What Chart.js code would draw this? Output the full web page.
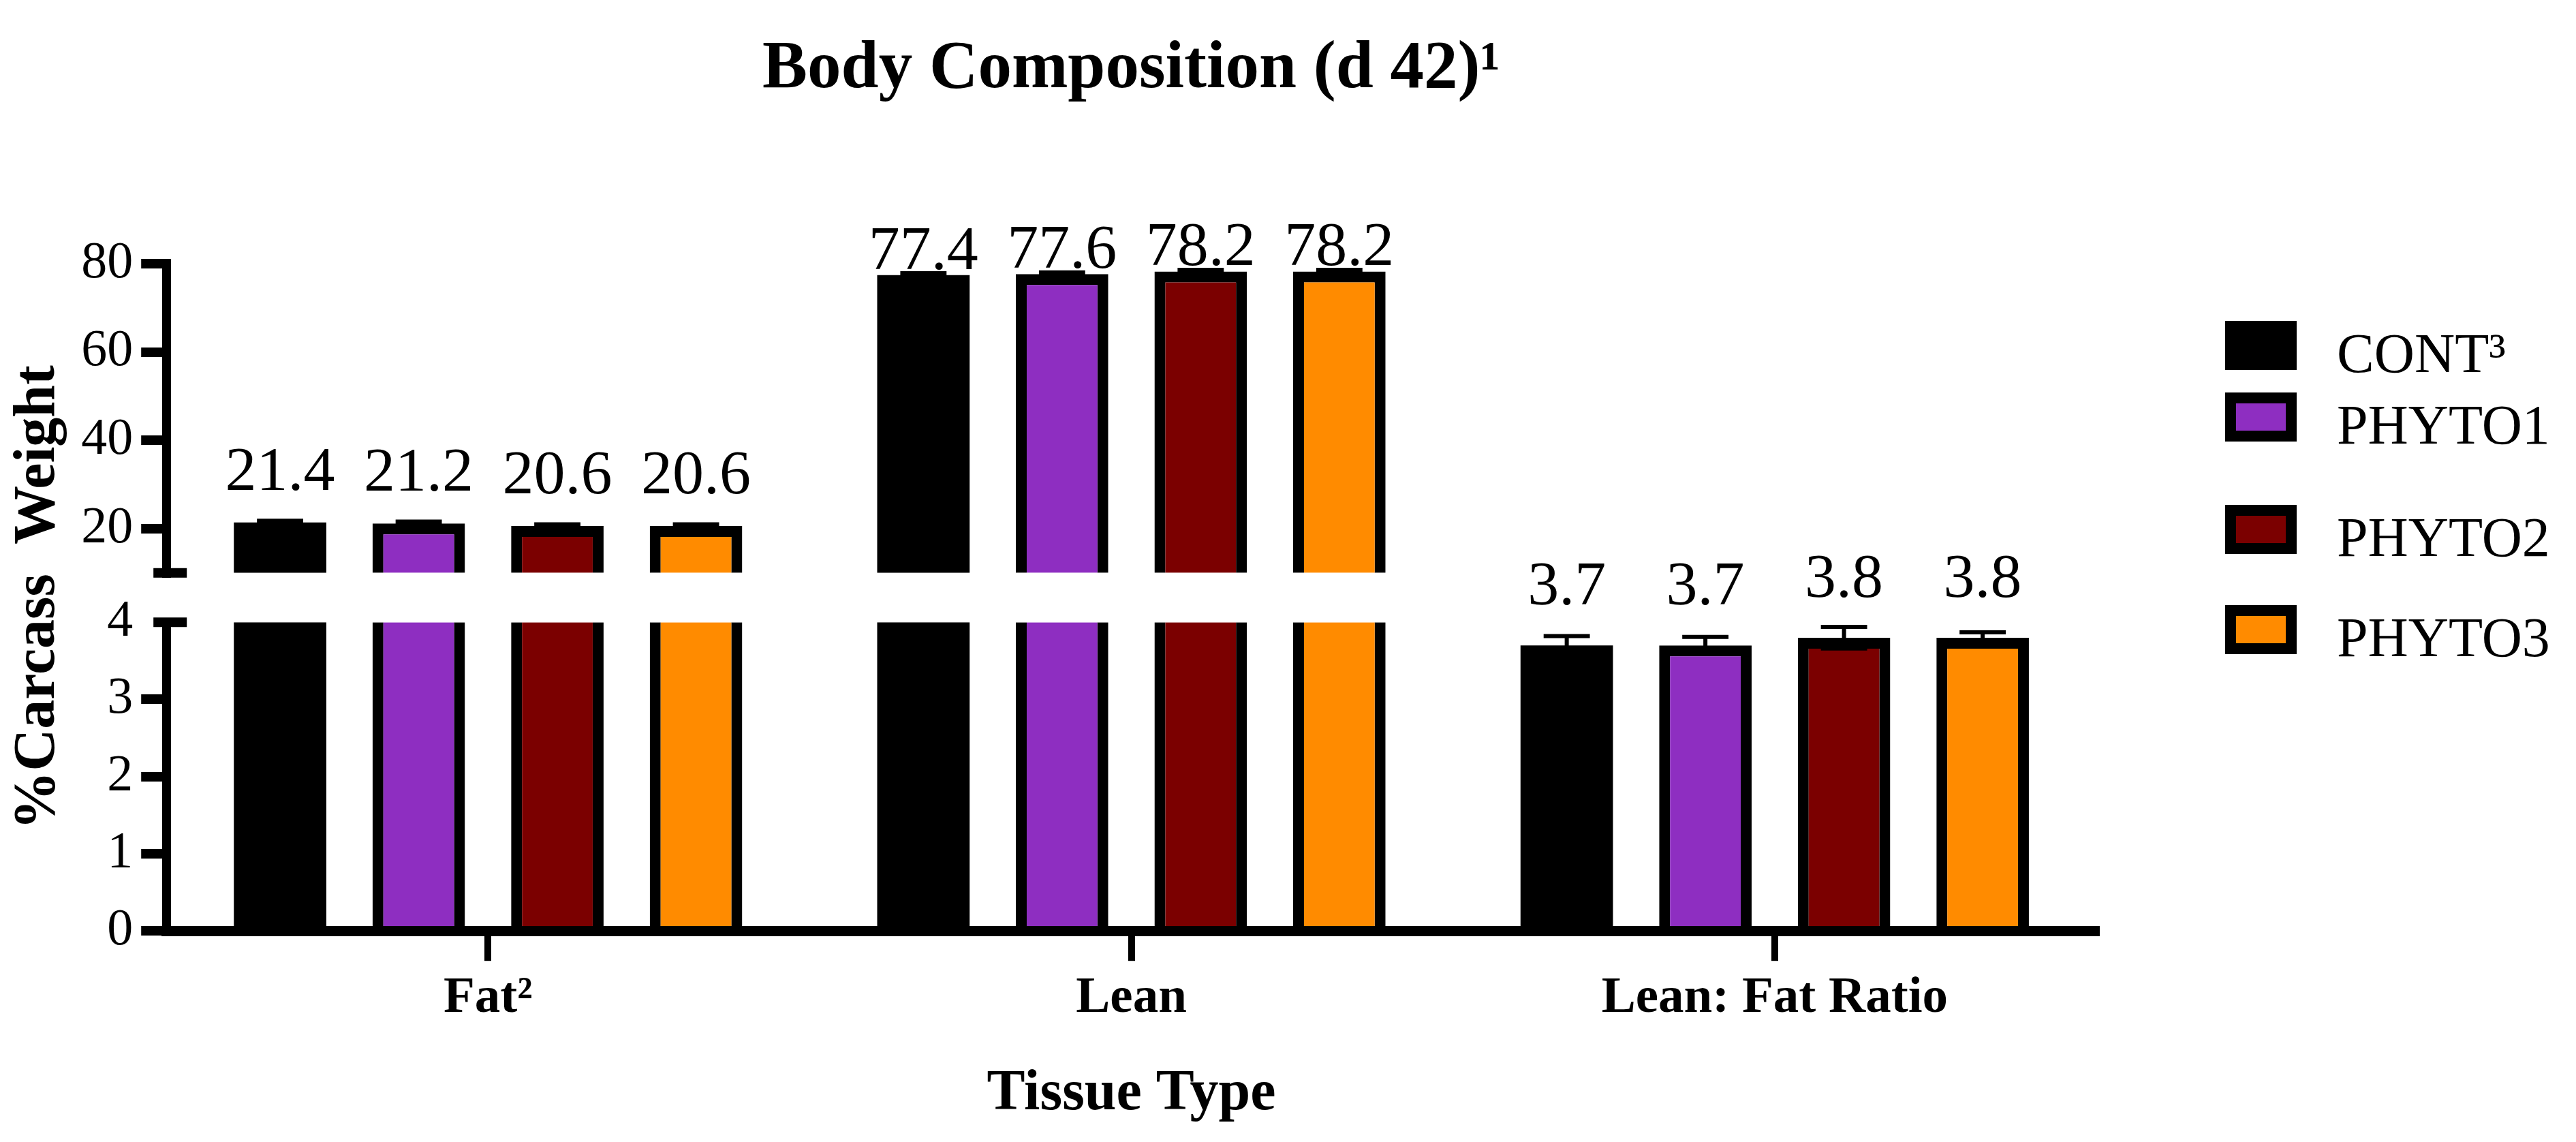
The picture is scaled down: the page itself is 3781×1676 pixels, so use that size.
<!DOCTYPE html>
<html>
<head>
<meta charset="utf-8">
<title>Body Composition (d 42)</title>
<script src="https://cdn.jsdelivr.net/npm/chart.js@4.4.1/dist/chart.umd.min.js"></script>
<style>
  html, body { margin: 0; padding: 0; background: #fff; }
  #wrap { width: 3781px; height: 1676px; }
</style>
</head>
<body>
<div id="wrap"><canvas id="myChart"></canvas></div>
<script>
  // tissue types on the x axis
  const categories = ['Fat²', 'Lean', 'Lean: Fat Ratio'];
  const groups = ['CONT³', 'PHYTO1', 'PHYTO2', 'PHYTO3'];

  // % carcass weight (means), one value per tissue type
  const contValues   = [21.4, 77.4, 3.7];
  const phyto1Values = [21.2, 77.6, 3.7];
  const phyto2Values = [20.6, 78.2, 3.8];
  const phyto3Values = [20.6, 78.2, 3.8];

  // standard errors
  const contErr   = [0.4, 0.4, 0.12];
  const phyto1Err = [0.4, 0.4, 0.11];
  const phyto2Err = [0.4, 0.4, 0.14];
  const phyto3Err = [0.4, 0.4, 0.07];

  // broken y axis: lower part 0-4, upper part 10-80
  const lowerTicks = [0, 1, 2, 3, 4];
  const upperTicks = [20, 40, 60, 80];
  const lowerMax = 4;
  const upperMin = 10;
  const upperMax = 80;

  const colors = ['#000000', '#8e2ec1', '#7b0000', '#ff8b00'];
  const values = [contValues, phyto1Values, phyto2Values, phyto3Values];
  const errors = [contErr, phyto1Err, phyto2Err, phyto3Err];

  const family = '"Liberation Serif", "Times New Roman", serif';
  Chart.defaults.font.family = family;
  Chart.defaults.color = '#000';

  // black bars need no outline (it only leaves seams)
  const side = g => (g === 0 ? 0 : 16);

  // lower segment: bars cut at the break
  const lowerSets = values.map((vals, g) => ({
    label: groups[g],
    data: vals.map(v => Math.min(v, lowerMax)),
    yAxisID: 'yLow',
    stack: 'g' + g,
    backgroundColor: colors[g],
    borderColor: '#000',
    borderSkipped: false,
    borderWidth: c => ({ left: side(g), right: side(g), bottom: 0, top: vals[c.dataIndex] > lowerMax ? 0 : side(g) })
  }));

  // upper segment: only the bars that go past the break
  const upperSets = values.map((vals, g) => ({
    label: groups[g],
    data: vals.map(v => (v > upperMin ? [upperMin, v] : null)),
    yAxisID: 'yUp',
    stack: 'g' + g,
    backgroundColor: colors[g],
    borderColor: '#000',
    borderSkipped: false,
    borderWidth: { left: side(g), right: side(g), bottom: 0, top: side(g) }
  }));

  function barFor(chart, g, i) {
    const up = values[g][i] > lowerMax;
    const meta = chart.getDatasetMeta(up ? lowerSets.length + g : g);
    return { bar: meta.data[i], scale: chart.scales[up ? 'yUp' : 'yLow'] };
  }

  const errorBars = {
    id: 'errorBars',
    afterDatasetsDraw(chart) {
      const ctx = chart.ctx;
      ctx.save();
      ctx.strokeStyle = '#000';
      ctx.lineWidth = 6;
      values.forEach((vals, g) => {
        vals.forEach((v, i) => {
          const { bar, scale } = barFor(chart, g, i);
          const e = errors[g][i];
          const yt = scale.getPixelForValue(v + e);
          const yb = scale.getPixelForValue(v - e);
          const cap = bar.width / 4;
          ctx.beginPath();
          ctx.moveTo(bar.x, yt); ctx.lineTo(bar.x, yb);
          ctx.moveTo(bar.x - cap, yt); ctx.lineTo(bar.x + cap, yt);
          ctx.moveTo(bar.x - cap, yb); ctx.lineTo(bar.x + cap, yb);
          ctx.stroke();
        });
      });
      ctx.restore();
    }
  };

  const valueLabels = {
    id: 'valueLabels',
    afterDatasetsDraw(chart, args, opts) {
      const ctx = chart.ctx;
      ctx.save();
      ctx.font = opts.size + 'px ' + family;
      ctx.fillStyle = '#000';
      ctx.textAlign = 'center';
      ctx.textBaseline = 'alphabetic';
      values.forEach((vals, g) => {
        vals.forEach((v, i) => {
          const { bar } = barFor(chart, g, i);
          ctx.fillText(v.toFixed(1), bar.x, bar.y - opts.gap[i]);
        });
      });
      ctx.restore();
    }
  };

  // little caps where the y axis is broken
  const axisBreak = {
    id: 'axisBreak',
    afterDraw(chart) {
      const ctx = chart.ctx;
      const up = chart.scales.yUp, low = chart.scales.yLow;
      const x = low.right;
      ctx.save();
      ctx.fillStyle = '#000';
      ctx.fillRect(x - 19, up.bottom - 7, 49, 14);
      ctx.fillRect(x - 19, low.top - 7, 49, 14);
      ctx.restore();
    }
  };

  const sideLegend = {
    id: 'sideLegend',
    afterDraw(chart, args, opts) {
      const ctx = chart.ctx;
      ctx.save();
      ctx.font = opts.size + 'px ' + family;
      ctx.textBaseline = 'alphabetic';
      groups.forEach((name, g) => {
        const top = opts.tops[g];
        ctx.fillStyle = '#000';
        ctx.fillRect(opts.x, top, opts.boxW, opts.boxH);
        ctx.fillStyle = chart.data.datasets[g].backgroundColor;
        ctx.fillRect(opts.x + opts.line, top + opts.line, opts.boxW - 2 * opts.line, opts.boxH - 2 * opts.line);
        ctx.fillStyle = '#000';
        ctx.fillText(name, opts.textX, top + opts.boxH + 3);
      });
      ctx.restore();
    }
  };

  const config = {
    type: 'bar',
    data: {
      labels: categories,
      datasets: lowerSets.concat(upperSets)
    },
    options: {
      responsive: true,
      maintainAspectRatio: false,
      devicePixelRatio: 1,
      animation: false,
      layout: { padding: { left: 0, right: 704, top: 0, bottom: 0 } },
      datasets: { bar: { categoryPercentage: 0.862, barPercentage: 0.667 } },
      plugins: {
        legend: { display: false },
        tooltip: { enabled: false },
        title: {
          display: true,
          fullSize: false,
          text: 'Body Composition (d 42)¹',
          color: '#000',
          font: { size: 99, weight: 'bold' },
          padding: { top: 43, bottom: 225 }
        },
        valueLabels: { size: 92, gap: [48, 9, 60] },
        sideLegend: { x: 3266, textX: 3430, boxW: 105, boxH: 72, line: 16, size: 82, tops: [471, 576, 741, 888] }
      },
      scales: {
        x: {
          type: 'category',
          offset: true,
          z: 1,
          grid: { drawOnChartArea: false, offset: false, tickLength: 44, lineWidth: 10, color: '#000' },
          border: { width: 15, color: '#000' },
          ticks: { color: '#000', padding: 10, font: { size: 75, weight: 'bold' } },
          title: {
            display: true,
            text: 'Tissue Type',
            color: '#000',
            font: { size: 84, weight: 'bold' },
            padding: { top: 36, bottom: 19 }
          }
        },
        yLow: {
          type: 'linear',
          position: 'left',
          stack: 'y',
          stackWeight: 450,
          weight: 1,
          stacked: false,
          min: 0,
          max: lowerMax,
          afterBuildTicks: s => { s.ticks = lowerTicks.map(v => ({ value: v })); },
          grid: {
            drawOnChartArea: false,
            tickLength: 37,
            lineWidth: 14,
            color: c => (c.tick && c.tick.value === lowerMax ? 'rgba(0,0,0,0)' : '#000')
          },
          border: { width: 13, color: '#000' },
          ticks: { color: '#000', padding: 12, font: { size: 76 } }
        },
        yGap: {
          type: 'linear',
          position: 'left',
          stack: 'y',
          stackWeight: 72,
          weight: 2,
          min: 0,
          max: 1,
          grid: { display: false, drawTicks: false },
          border: { display: false },
          ticks: { display: false },
          title: {
            display: true,
            text: '%Carcass  Weight',
            color: '#000',
            font: { size: 86, weight: 'bold' },
            padding: { top: 5, bottom: 136 }
          }
        },
        yUp: {
          type: 'linear',
          position: 'left',
          stack: 'y',
          stackWeight: 451,
          weight: 3,
          stacked: false,
          min: upperMin,
          max: upperMax,
          afterBuildTicks: s => { s.ticks = upperTicks.map(v => ({ value: v })); },
          grid: { drawOnChartArea: false, tickLength: 37, lineWidth: 14, color: '#000' },
          border: { width: 13, color: '#000' },
          ticks: { color: '#000', padding: 12, font: { size: 76 } }
        }
      }
    },
    plugins: [errorBars, valueLabels, axisBreak, sideLegend]
  };

  const myChart = new Chart(document.getElementById('myChart'), config);
</script>
</body>
</html>
